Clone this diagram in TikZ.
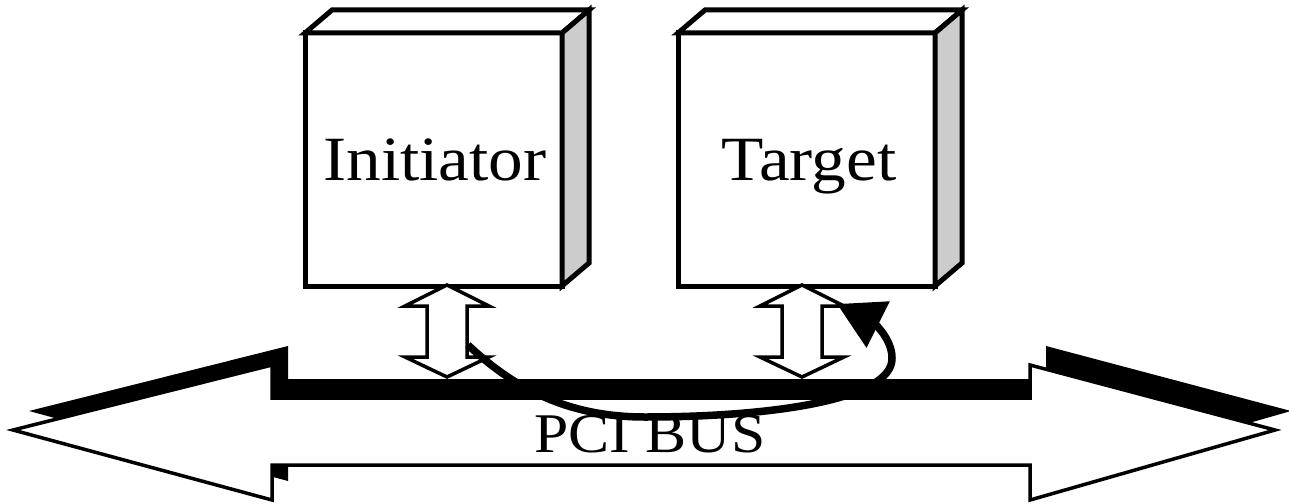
\documentclass[tikz,border=0pt]{standalone}
\usepackage{fontspec}
\setmainfont{Liberation Serif}
\usetikzlibrary{arrows.meta}
\begin{document}
\begin{tikzpicture}[x=1pt,y=-1pt,
  boxline/.style={line width=5pt, line join=miter},
  frontface/.style={boxline, draw, fill=white, outer sep=0pt, inner sep=0pt,
    minimum width=257pt, minimum height=253pt, anchor=north west},
  sideface/.style={boxline, draw, fill=gray!40},
  topface/.style={boxline, draw, fill=white},
  boxlabel/.style={font=\fontsize{63}{70}\selectfont, xscale=1.1, anchor=base, inner sep=0pt},
  buslabel/.style={font=\fontsize{56}{62}\selectfont, xscale=1.1, anchor=base, inner sep=0pt},
  busshadow/.style={fill=black},
  busbody/.style={draw, fill=white, line width=3.5pt, line join=miter},
  hollowarrow/.style={draw, fill=white, line width=3.5pt, line join=miter},
  flowcurve/.style={line width=7.5pt, -{Triangle[length=46pt,width=50pt]}}]
\useasboundingbox (0,0) rectangle (1289,503);

% PCI bus: shadow then body
\fill[busshadow, shift={(16,-19)}] (13,430) -- (272,365) -- (272,398) -- (1030,398) -- (1030,365)
  -- (1275,430) -- (1030,500) -- (1030,465) -- (272,465) -- (272,500) -- cycle;
\path[busbody] (13,430) -- (272,365) -- (272,398) -- (1030,398) -- (1030,365)
  -- (1275,430) -- (1030,500) -- (1030,465) -- (272,465) -- (272,500) -- cycle;
\node[buslabel] (bus) at (650,452) {PCI BUS};

% Initiator box
\node[frontface] (init) at (305,33) {};
\draw[topface] (init.north west) -- ++(27,-23) -- ++(257,0) -- (init.north east) -- cycle;
\draw[sideface] (init.north east) -- ++(27,-23) -- ++(0,253) -- (init.south east) -- cycle;
\node[boxlabel] (initlbl) at (435,180) {Initiator};

% Target box
\node[frontface] (targ) at (678,33) {};
\draw[topface] (targ.north west) -- ++(27,-23) -- ++(257,0) -- (targ.north east) -- cycle;
\draw[sideface] (targ.north east) -- ++(27,-23) -- ++(0,253) -- (targ.south east) -- cycle;
\node[boxlabel] (targlbl) at (809,180) {Target};

% hollow double arrows between boxes and bus
\coordinate (ia) at (447,0);
\coordinate (ta) at (802,0);
\path[hollowarrow, shift={(ia)}] (0,285) -- (42,306) -- (20,306) -- (20,357) -- (42,357) -- (0,377)
  -- (-42,357) -- (-20,357) -- (-20,306) -- (-42,306) -- cycle;
\path[hollowarrow, shift={(ta)}] (0,285) -- (42,306) -- (20,306) -- (20,357) -- (42,357) -- (0,377)
  -- (-42,357) -- (-20,357) -- (-20,306) -- (-42,306) -- cycle;

% transaction curve
\coordinate (cs) at (468,345);
\coordinate (cm) at (645,417);
\coordinate (cr) at (892,358);
\coordinate (ce) at (837,304);
\draw[flowcurve] (cs) .. controls (520,394) and (575,417) .. (cm)
  .. controls (770,417) and (893,400) .. (cr)
  .. controls (892,336) and (869,320) .. (ce);
\end{tikzpicture}
\end{document}
